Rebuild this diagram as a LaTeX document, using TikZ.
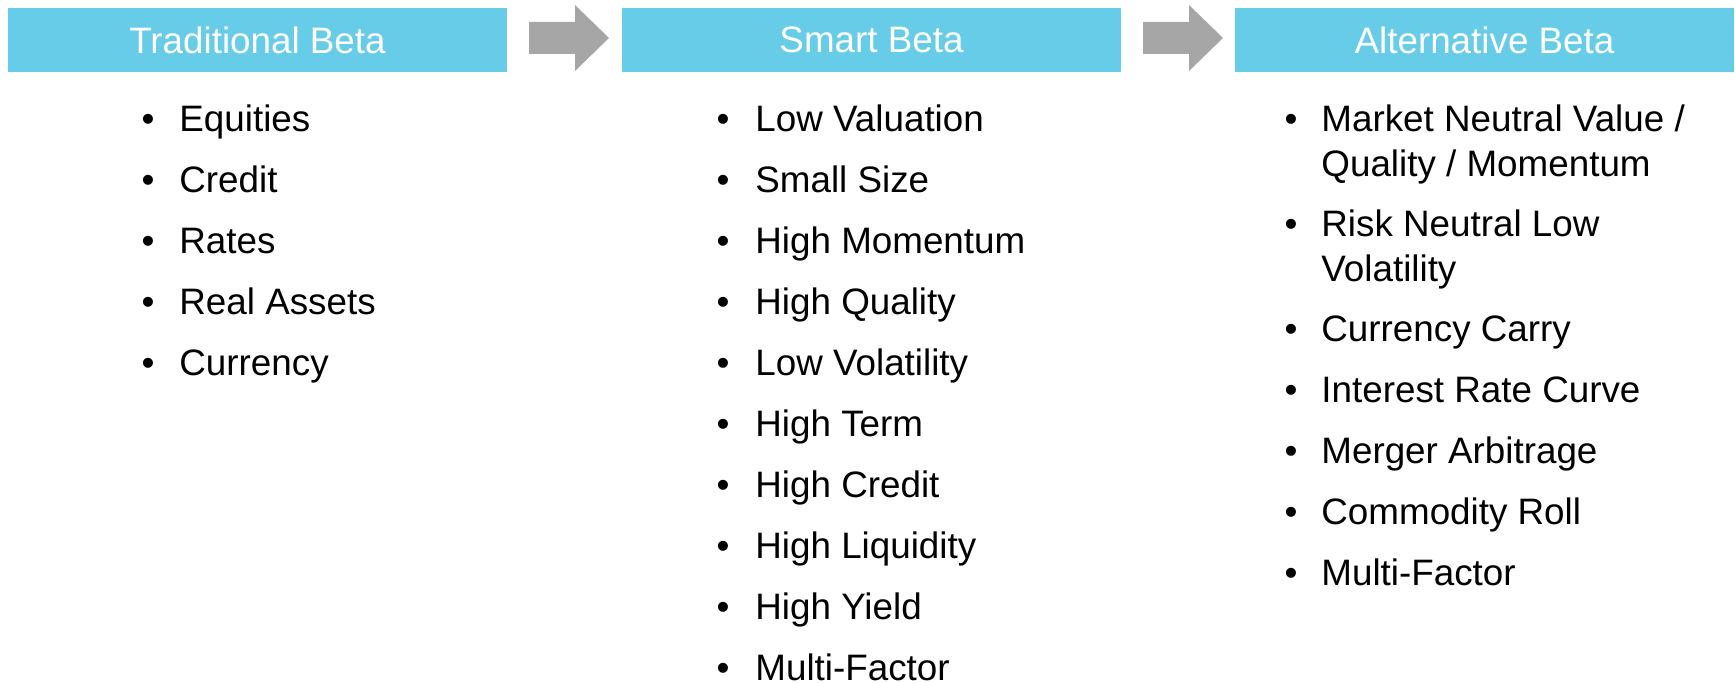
\documentclass[tikz,border=0pt]{standalone}
\usepackage{fontspec}
\setmainfont{Liberation Sans}
\definecolor{betablue}{HTML}{66CCE8}
\definecolor{flowgray}{HTML}{A6A6A6}
\tikzset{
	header/.style={fill=betablue, text=white, inner sep=0pt,
		minimum width=249.5pt, minimum height=32pt,
		font=\fontsize{18.4}{22.15}\selectfont},
	item/.style={anchor=base west, inner sep=0pt, align=left,
		font=\fontsize{18.4}{22.15}\selectfont},
	dot/.style={anchor=base, inner sep=0pt,
		font=\fontsize{18.4}{22.15}\selectfont}
}
\begin{document}
\begin{tikzpicture}[x=0.5pt, y=-0.5pt]
\useasboundingbox (0,0) rectangle (1735,683);
% the three stages
\node[header] (trad) at (257.5,40) {Traditional Beta};
\node[header] (smart) at (871.5,40) {Smart Beta};
\node[header] (alt) at (1484.5,40) {Alternative Beta};
% block arrows between the stages
\foreach \x in {529,1143}
{
	\fill[flowgray] (\x,22) -- (\x+46,22) -- (\x+46,5) -- (\x+80,38)
		-- (\x+46,71) -- (\x+46,54) -- (\x,54) -- cycle;
}
% traditional beta
\foreach \t [count=\i] in {Equities, Credit, Rates, Real Assets, Currency}
{
	\node[dot] (trad-dot\i) at (148, {132+60.9*(\i-1)}) {\textbullet};
	\node[item] (trad-\i) at (179, {132+60.9*(\i-1)}) {\t};
}
% smart beta
\foreach \t [count=\i] in {Low Valuation, Small Size, High Momentum, High Quality,
	Low Volatility, High Term, High Credit, High Liquidity, High Yield, Multi-Factor}
{
	\node[dot] (smart-dot\i) at (723, {132+60.9*(\i-1)}) {\textbullet};
	\node[item] (smart-\i) at (755, {132+60.9*(\i-1)}) {\t};
}
% alternative beta: bullet on the first line, base anchor on the last one
\foreach \b/\y/\t [count=\i] in {132/176.3/{Market Neutral Value /\\Quality / Momentum},
	237/281.3/{Risk Neutral Low\\Volatility}, 342/342/{Currency Carry},
	403/403/{Interest Rate Curve}, 464/464/{Merger Arbitrage},
	525/525/{Commodity Roll}, 586/586/{Multi-Factor}}
{
	\node[dot] (alt-dot\i) at (1291, \b) {\textbullet};
	\node[item] (alt-\i) at (1321, \y) {\t};
}
\end{tikzpicture}
\end{document}
